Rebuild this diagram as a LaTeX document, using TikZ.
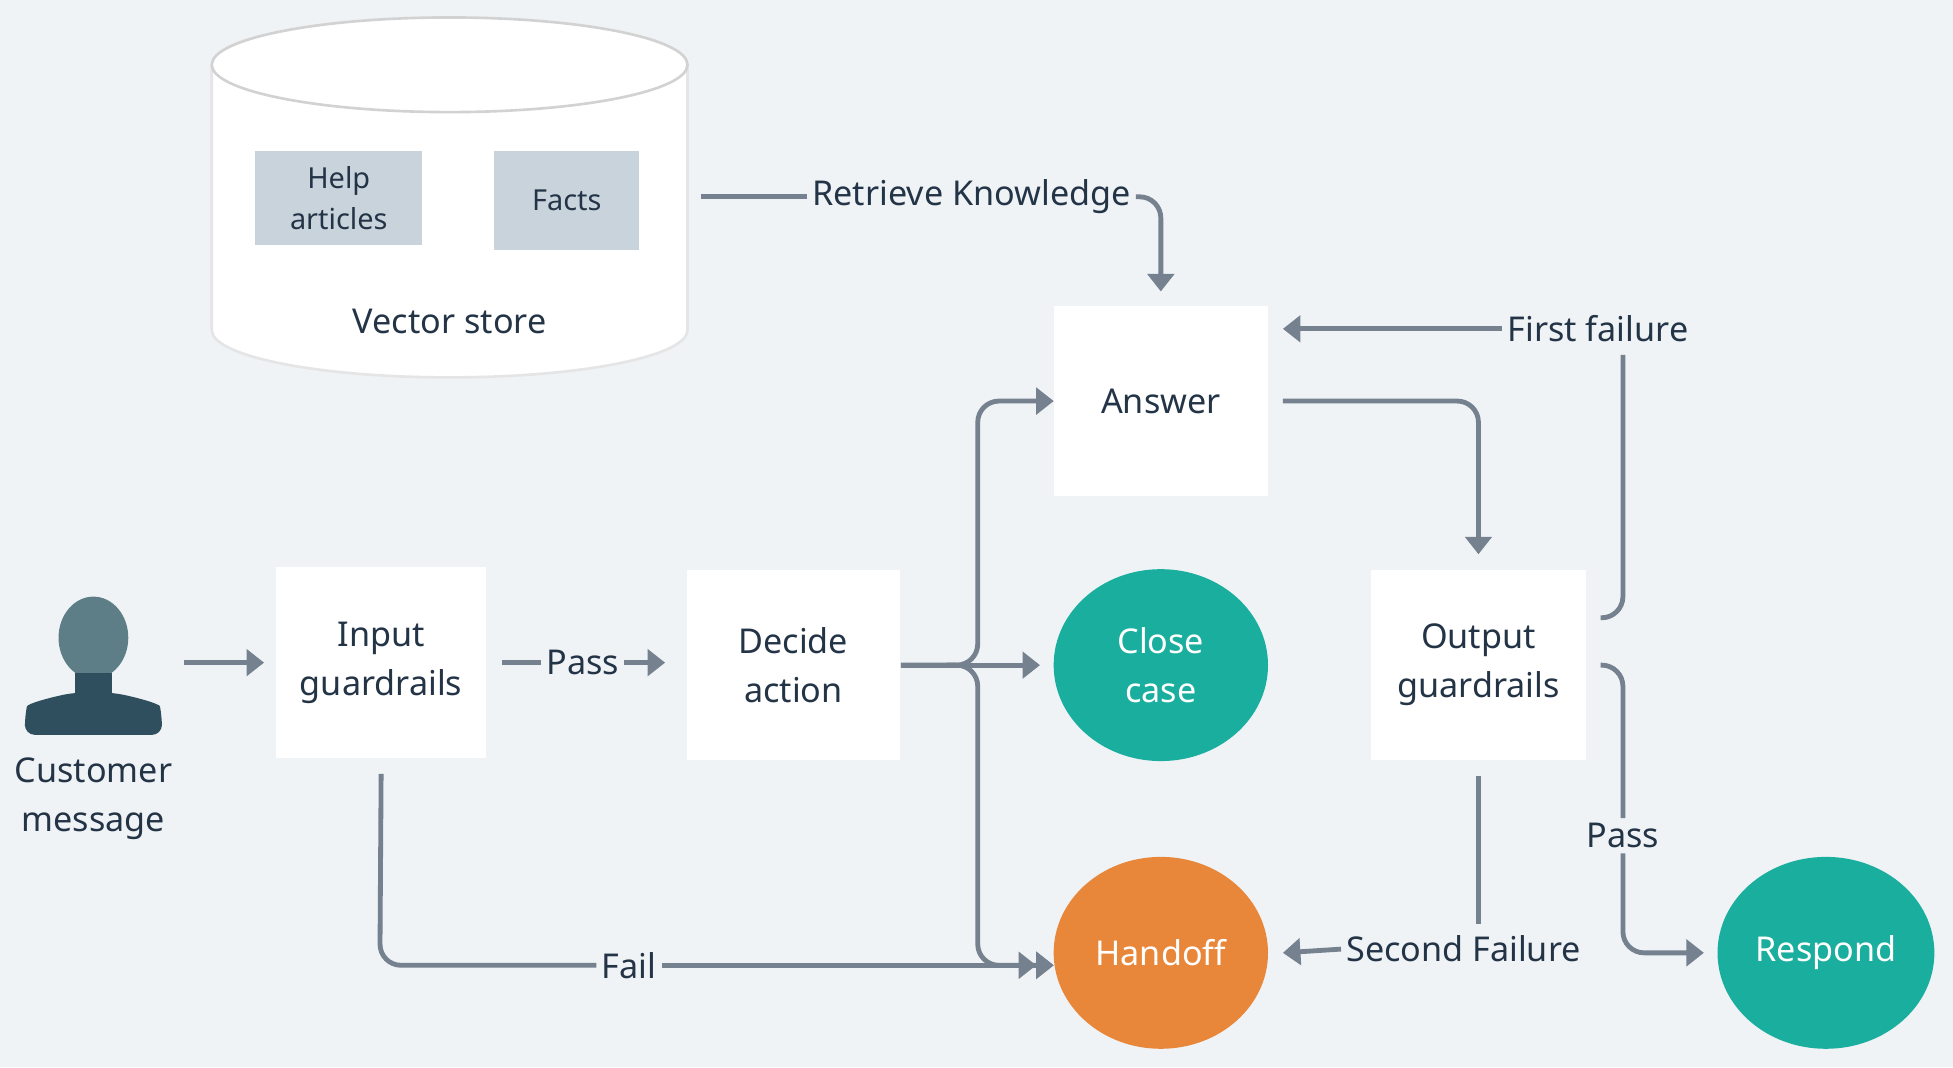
\documentclass[tikz,border=0pt]{standalone}
\usepackage{fontspec}
\setmainfont{Noto Sans}
\usetikzlibrary{arrows.meta,shapes.geometric}
\definecolor{bg}{HTML}{EFF3F6}
\definecolor{ln}{HTML}{75818F}
\definecolor{gbox}{HTML}{C9D3DB}
\definecolor{teal}{HTML}{1AAE9F}
\definecolor{org}{HTML}{E8863A}
\definecolor{txt}{HTML}{243447}
\definecolor{person}{HTML}{5D7D87}
\definecolor{persond}{HTML}{2F4E5E}
\begin{document}
\begin{tikzpicture}[x=0.01cm,y=-0.01cm,
  font=\fontsize{7.8}{11.2}\selectfont, text=txt,
  box/.style={fill=white,draw=none,minimum width=#1,inner sep=0,align=center},
  circ/.style={ellipse,fill=#1,draw=none,minimum width=1.72cm,minimum height=1.54cm,text=white,align=center,inner sep=0},
  arr/.style={draw=ln,line width=1.1pt,rounded corners=0.17cm,-{Triangle[length=4pt,width=6pt]}},
  ln/.style={draw=ln,line width=1.1pt,rounded corners=0.17cm},
  lbl/.style={inner sep=1pt}]
\fill[bg] (0,0) rectangle (1568,857);
\useasboundingbox (0,0) rectangle (1568,857);
% cylinder
\path[fill=white,draw=gray!20,line width=0.6pt] (170,52) -- (170,265) arc[start angle=180,end angle=0,x radius=191,y radius=38] -- (552,52);
\path[fill=white,draw=gray!35,line width=0.6pt] (361,52) ellipse[x radius=191,y radius=38];
\node[fill=gbox,minimum width=1.34cm,minimum height=0.76cm,align=center,font=\fontsize{6.6}{9.5}\selectfont] (help) at (272,159) {Help\\articles};
\node[fill=gbox,minimum width=1.16cm,minimum height=0.8cm,font=\fontsize{6.6}{9.5}\selectfont] (facts) at (455,161) {Facts};
\node (vs) at (361,258) {Vector store};
% boxes
\node[box=1.72cm,minimum height=1.53cm] (ans) at (932,322) {Answer};
\node[box=1.68cm,minimum height=1.53cm] (ig) at (306,532) {Input\\guardrails};
\node[box=1.71cm,minimum height=1.53cm] (da) at (637,534) {Decide\\action};
\node[box=1.72cm,minimum height=1.53cm] (og) at (1187,534) {Output\\guardrails};
\node[circ=teal] (cc) at (932,534) {Close\\case};
\node[circ=org] (ho) at (932,765) {Handoff};
\node[circ=teal,minimum width=1.74cm] (rs) at (1466,765) {Respond};
% person
\node[align=center] (cm) at (75,641) {Customer\\message};
\fill[person] (75,512) ellipse[x radius=28,y radius=33];
\fill[persond] (60,540) rectangle (90,560);
\fill[persond,rounded corners=0.08cm] (20,590) -- (20,575) .. controls (22,565) and (40,560) .. (60,556) -- (90,556) .. controls (110,560) and (128,565) .. (130,575) -- (130,590) -- cycle;
\coordinate (pr) at (148,532);
% labels
\node[lbl] (rk) at (780,158) {Retrieve Knowledge};
\node[lbl] (p1) at (468,532) {Pass};
\node[lbl] (fail) at (505,775) {Fail};
\node[lbl] (ff) at (1283,264) {First failure};
\node[lbl] (p2) at (1303,671) {Pass};
\node[lbl] (sf) at (1175,762) {Second Failure};
% connectors
\draw[ln] (563,158) -- (rk.west);
\draw[arr] (rk.east) -- (932,158) -- (932,234);
\draw[arr] (pr) -- (212,532);
\draw[ln] (403,532) -- (p1.west);
\draw[arr] (p1.east) -- (534,532);
\draw[arr] (da.east) -- (835,534);
\draw[arr] (da.east) -- (785,534) -- (785,322) -- (846,322);
\draw[arr] (760,534) -- (785,534) -- (785,775) -- (846,775);
\draw[ln] (ig.south) ++(0,12) -- (305,775) -- (fail.west);
\draw[arr,-{Triangle[length=4pt,width=6pt]Triangle[length=4pt,width=6pt]}] (fail.east) -- (846,775);
\draw[arr] (1030,322) -- (1187,322) -- (1187,445);
\draw[ln] (1285,496) -- (1303,496) -- (1303,285);
\draw[arr] (ff.west) -- (1030,264);
\draw[ln] (1285,534) -- (1303,534) -- (p2.north);
\draw[arr] (p2.south) -- (1303,765) -- (1368,765);
\draw[ln] (og.south) ++(0,12) -- (1187,742);
\draw[arr] (sf.west) -- (1030,765);
\end{tikzpicture}
\end{document}
